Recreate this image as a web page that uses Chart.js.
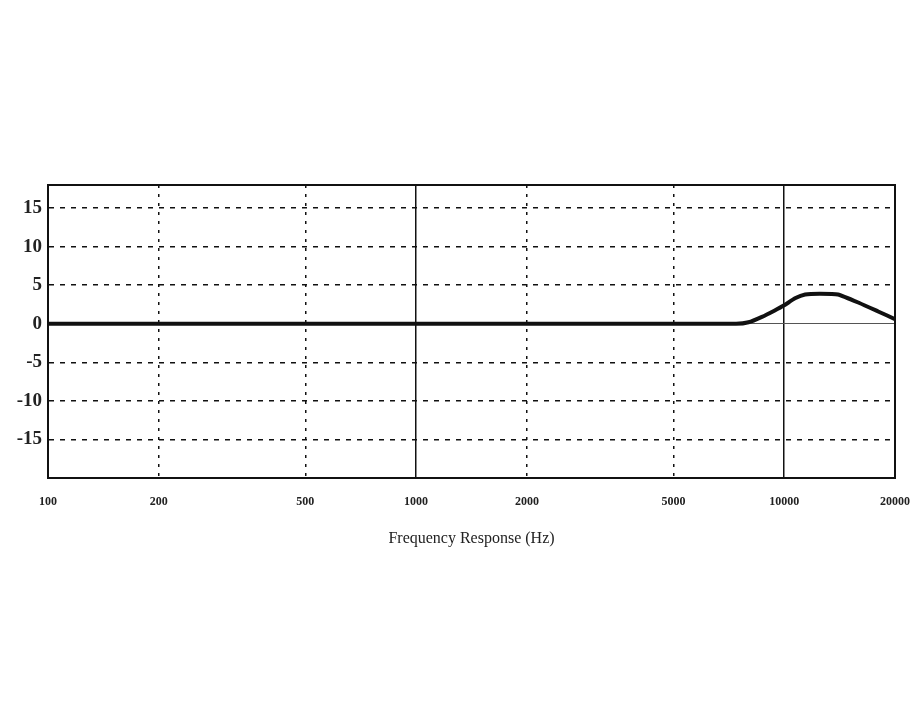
<!DOCTYPE html>
<html>
<head>
<meta charset="utf-8">
<script src="https://cdn.jsdelivr.net/npm/chart.js@4"></script>
<style>
  html, body { margin: 0; padding: 0; background: #fff; }
  #wrap { width: 920px; height: 720px; }
</style>
</head>
<body>
<div id="wrap"><canvas id="freqChart"></canvas></div>
<script>
// frequency response (Hz / dB)
const freqs = [100, 1000, 5000, 7400, 8000, 8700, 9400, 10000, 10700, 11400, 12500, 14000, 16000, 18000, 20000];
const gains = [0, 0, 0, 0, 0.2, 0.9, 1.7, 2.4, 3.3, 3.8, 3.9, 3.8, 2.7, 1.6, 0.6];
const xTicks = [100, 200, 500, 1000, 2000, 5000, 10000, 20000];
const yTicks = [-15, -10, -5, 0, 5, 10, 15];
const solidX = [100, 1000, 10000, 20000];

const serif = "'Liberation Serif', 'DejaVu Serif', serif";

const frameBox = {
  id: "frameBox",
  afterDraw(chart) {
    const { ctx, chartArea: a } = chart;
    ctx.save();
    ctx.strokeStyle = "#111";
    ctx.lineWidth = 2;
    ctx.strokeRect(a.left, a.top, a.right - a.left, a.bottom - a.top);
    ctx.restore();
  }
};

new Chart(document.getElementById("freqChart"), {
  type: "line",
  data: {
    datasets: [{
      data: freqs.map((f, i) => ({ x: f, y: gains[i] })),
      borderColor: "#111",
      borderWidth: 4,
      pointRadius: 0,
      tension: 0.15,
      fill: false
    }]
  },
  options: {
    responsive: true,
    maintainAspectRatio: false,
    animation: false,
    layout: { padding: { top: 185, right: 25, bottom: 168, left: 0 } },
    plugins: { legend: { display: false }, tooltip: { enabled: false } },
    scales: {
      x: {
        type: "logarithmic",
        min: 100,
        max: 20000,
        afterBuildTicks: s => { s.ticks = xTicks.map(v => ({ value: v })); },
        afterFit: s => { s.height = 74; s.paddingRight = 0; s.paddingLeft = 0; },
        grid: {
          drawTicks: false,
          color: "#111",
          lineWidth: 1.5
        },
        border: {
          color: "#111",
          width: 2,
          dash: c => (c.tick && solidX.includes(c.tick.value)) ? [] : [3, 6]
        },
        ticks: {
          autoSkip: false,
          maxRotation: 0,
          padding: 17,
          color: "#222",
          font: { family: serif, size: 12, weight: "bold" },
          callback: v => String(v)
        },
        title: {
          display: true,
          text: "Frequency Response (Hz)",
          color: "#222",
          padding: { top: 8 },
          font: { family: serif, size: 16 }
        }
      },
      y: {
        min: -20,
        max: 18,
        afterBuildTicks: s => { s.ticks = yTicks.map(v => ({ value: v })); },
        afterFit: s => { s.width = 48; },
        grid: {
          drawTicks: false,
          color: c => (c.tick && c.tick.value === 0) ? "#555" : "#111",
          lineWidth: c => (c.tick && c.tick.value === 0) ? 1 : 1.5
        },
        border: {
          color: "#111",
          width: 2,
          dash: c => (c.tick && c.tick.value === 0) ? [] : [5, 6]
        },
        ticks: {
          padding: 6,
          color: "#222",
          font: { family: serif, size: 19, weight: "bold" }
        }
      }
    }
  },
  plugins: [frameBox]
});
</script>
</body>
</html>
